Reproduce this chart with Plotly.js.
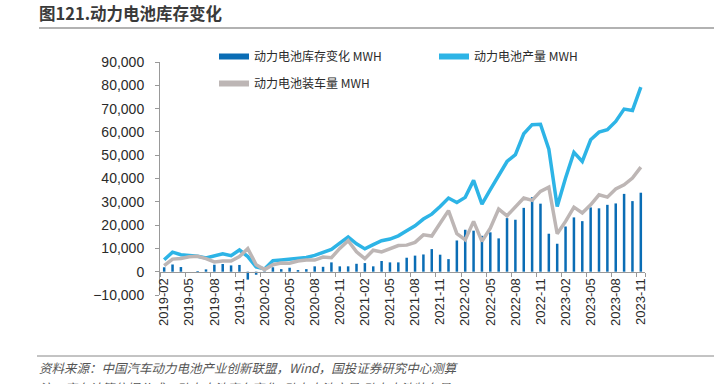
<!DOCTYPE html>
<html>
<head>
<meta charset="utf-8">
<script src="https://cdn.plot.ly/plotly-3.0.1.min.js"></script>
<style>
html,body{margin:0;padding:0;background:#fff;}
#chart{width:725px;height:384px;}
</style>
</head>
<body>
<div id="chart"></div>
<script>
const months = [
  "2019-02","2019-03","2019-04","2019-05","2019-06","2019-07","2019-08","2019-09","2019-10","2019-11","2019-12",
  "2020-01","2020-02","2020-03","2020-04","2020-05","2020-06","2020-07","2020-08","2020-09","2020-10","2020-11","2020-12",
  "2021-01","2021-02","2021-03","2021-04","2021-05","2021-06","2021-07","2021-08","2021-09","2021-10","2021-11","2021-12",
  "2022-01","2022-02","2022-03","2022-04","2022-05","2022-06","2022-07","2022-08","2022-09","2022-10","2022-11","2022-12",
  "2023-01","2023-02","2023-03","2023-04","2023-05","2023-06","2023-07","2023-08","2023-09","2023-10","2023-11"
];
const tickLabels = [
  "2019-02","2019-05","2019-08","2019-11","2020-02","2020-05","2020-08","2020-11",
  "2021-02","2021-05","2021-08","2021-11","2022-02","2022-05","2022-08","2022-11",
  "2023-02","2023-05","2023-08","2023-11"
];
// 动力电池库存变化 MWH
const inventoryChange = [
  1900,3100,2000,0,300,1000,3000,3300,2700,2900,-3400,
  -1300,200,1900,1100,1700,700,1100,2300,2100,4000,2300,2300,
  3400,3700,2300,4600,4000,4000,6000,6900,7400,9700,7300,5400,
  13400,18000,17600,15400,16900,14300,23000,22300,27400,32000,29200,16300,
  12000,19400,23300,21700,27600,27200,28700,29300,33400,30300,33900
];
// 动力电池产量 MWH
const production = [
  5100,8400,7300,7000,6600,5900,6900,7700,6900,9300,6500,
  2000,1200,4700,5000,5300,5600,6100,7000,8300,9600,12300,14900,
  12000,9800,11600,13300,14000,15400,17600,19700,22600,24700,28000,31600,
  29700,31900,39200,29000,35200,40900,47300,50200,59200,63100,63300,52600,
  28000,40200,51200,47300,56600,59900,60900,64500,69800,69200,79200
];
// 动力电池装车量 MWH
const installation = [
  2600,5400,5700,6400,6600,5600,4200,4600,4600,6500,9900,
  3000,900,3000,3700,3600,4600,5000,5000,6300,6000,10000,13300,
  8500,5600,9200,8500,9800,11200,11400,12600,15800,15300,20800,26200,
  16300,13700,21600,13000,18700,26900,24000,27700,31600,30600,34500,36300,
  16300,21600,27700,25200,28700,33000,32000,35500,37300,40200,44900
];
const seriesNames = ["动力电池库存变化 MWH","动力电池产量 MWH","动力电池装车量 MWH"];
const colors = ["#0A6DB5","#2DB4E6","#BDB6B5"];

const cjk = '"Noto Sans CJK SC", "Liberation Sans", sans-serif';
const textColor = '#2a2a2a';

const traces = [
  {type:'bar', x:months, y:inventoryChange, marker:{color:colors[0]}, showlegend:false, name:seriesNames[0]},
  {type:'scatter', mode:'lines', x:months, y:production, line:{color:colors[1], width:3.5}, showlegend:false, name:seriesNames[1]},
  {type:'scatter', mode:'lines', x:months, y:installation, line:{color:colors[2], width:3.5}, showlegend:false, name:seriesNames[2]},
  // legend entries
  {type:'scatter', mode:'lines', x:[null], y:[null], line:{color:colors[0], width:6}, name:seriesNames[0], legend:'legend'},
  {type:'scatter', mode:'lines', x:[null], y:[null], line:{color:colors[1], width:6}, name:seriesNames[1], legend:'legend'},
  {type:'scatter', mode:'lines', x:[null], y:[null], line:{color:colors[2], width:6}, name:seriesNames[2], legend:'legend2'}
];

const L = 160, R = 645, T = 62, B = 295;
const px = x => (x - L) / (R - L);
const py = y => (B - y) / (B - T);

const layout = {
  width:725, height:384,
  margin:{l:L, r:725-R, t:T, b:384-B},
  paper_bgcolor:'#fff', plot_bgcolor:'#fff',
  font:{family:cjk, color:textColor},
  bargap:0.7,
  title:{text:'图121.动力电池库存变化', x:39/725, xanchor:'left', xref:'container', y:1-8/384, yref:'container', yanchor:'top',
         font:{family:cjk, size:16.5, color:'#3a3a3a', weight:'bold'}},
  xaxis:{
    type:'category', range:[-0.5, months.length-0.5],
    anchor:'free', position:py(272),
    tickmode:'array', tickvals:tickLabels, ticktext:tickLabels,
    tickangle:-90, tickson:'boundaries',
    ticks:'outside', ticklen:4, tickcolor:'#999',
    showline:true, linecolor:'#999', linewidth:1,
    showgrid:false, zeroline:false,
    tickfont:{family:'"Liberation Sans", Arial, sans-serif', size:13, color:textColor}
  },
  yaxis:{
    range:[-10000, 90000], dtick:10000, tickformat:',',
    ticks:'outside', ticklen:4, tickcolor:'#999', ticklabelstandoff:8,
    showline:true, linecolor:'#999', linewidth:1,
    showgrid:false, zeroline:false,
    tickfont:{family:'"Liberation Sans", Arial, sans-serif', size:14, color:textColor}
  },
  legend:{orientation:'h', x:px(214), xanchor:'left', y:py(42), yanchor:'top',
          entrywidth:175, entrywidthmode:'pixels', itemwidth:30,
          font:{family:cjk, size:12, color:textColor}, bgcolor:'rgba(0,0,0,0)'},
  legend2:{orientation:'h', x:px(214), xanchor:'left', y:py(69), yanchor:'top',
          itemwidth:30,
          font:{family:cjk, size:12, color:textColor}, bgcolor:'rgba(0,0,0,0)'},
  shapes:[
    {type:'line', xref:'paper', yref:'paper', x0:px(39), x1:px(714), y0:py(28), y1:py(28), line:{color:'#666', width:1.2}},
    {type:'line', xref:'paper', yref:'paper', x0:px(37), x1:px(714), y0:py(356), y1:py(356), line:{color:'#888', width:1}}
  ],
  annotations:[
    {xref:'paper', yref:'paper', x:px(37), y:py(367), xanchor:'left', yanchor:'middle', showarrow:false,
     text:'<i>资料来源：中国汽车动力电池产业创新联盟，Wind，国投证券研究中心测算</i>',
     font:{family:cjk, size:12.5, color:'#555'}},
    {xref:'paper', yref:'paper', x:px(37), y:py(376), xanchor:'left', yanchor:'top', showarrow:false,
     text:'<i>注：库存计算依据公式：动力电池库存变化=动力电池产量-动力电池装车量</i>',
     font:{family:cjk, size:12.5, color:'#555'}}
  ]
};

Plotly.newPlot('chart', traces, layout, {staticPlot:true, displayModeBar:false});
</script>
</body>
</html>
